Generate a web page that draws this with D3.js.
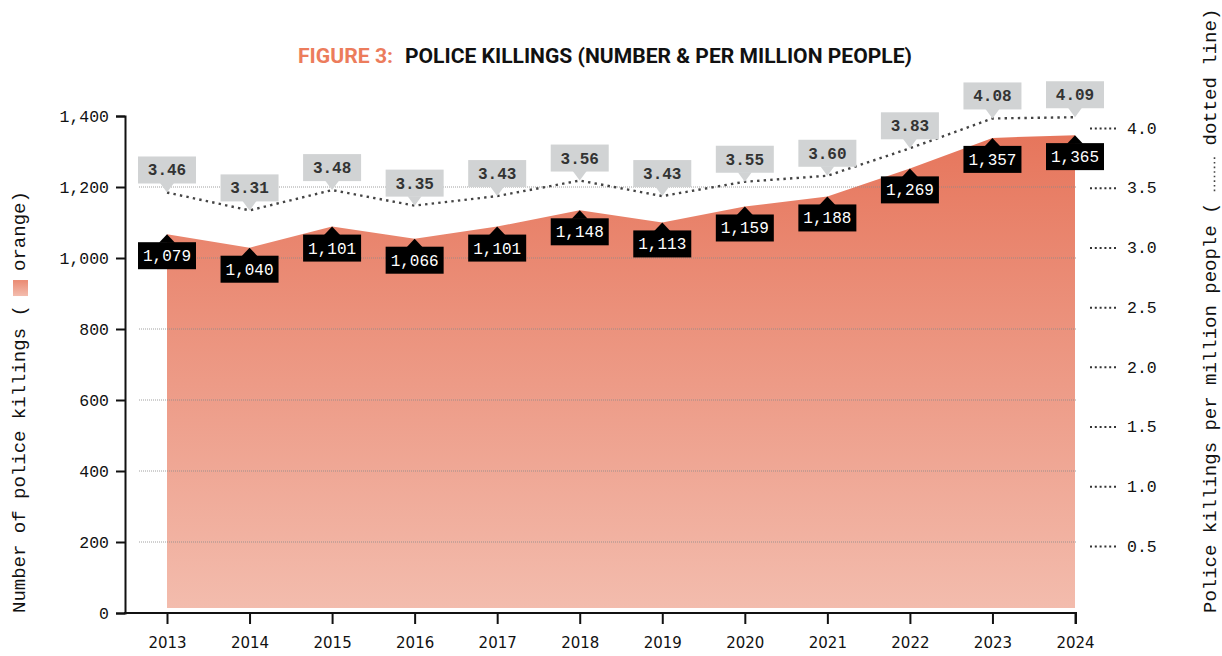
<!DOCTYPE html>
<html>
<head>
<meta charset="utf-8">
<script src="https://cdn.jsdelivr.net/npm/d3@7"></script>
<style>
  html, body { margin: 0; padding: 0; background: #fff; }
  svg { display: block; }
</style>
</head>
<body>
<svg id="chart" width="1222" height="656"></svg>
<script>
const years = [2013, 2014, 2015, 2016, 2017, 2018, 2019, 2020, 2021, 2022, 2023, 2024];
const killings = [1079, 1040, 1101, 1066, 1101, 1148, 1113, 1159, 1188, 1269, 1357, 1365];
const perMillion = [3.46, 3.31, 3.48, 3.35, 3.43, 3.56, 3.43, 3.55, 3.60, 3.83, 4.08, 4.09];
const leftTicks = [0, 200, 400, 600, 800, 1000, 1200, 1400];
const gridTicks = [200, 400, 600, 800, 1000, 1200];
const rightTicks = [0.5, 1.0, 1.5, 2.0, 2.5, 3.0, 3.5, 4.0];

const MONO = "'Liberation Mono', 'Courier New', monospace";
const NB = "\u00A0";
const svg = d3.select("#chart");

const x = d3.scaleLinear().domain([2013, 2024]).range([167, 1075]);
const yLeft = d3.scaleLinear().domain([0, 1400]).range([613, 116]);
const yArea = d3.scaleLinear().domain([0, 1400]).range([608, 123]);
const yRight = d3.scaleLinear().domain([0, 4]).range([605.7, 128]);

const data = years.map((yr, i) => ({ year: yr, k: killings[i], r: perMillion[i] }));

// gradient
const defs = svg.append("defs");
const grad = defs.append("linearGradient").attr("id", "areaGrad")
  .attr("gradientUnits", "userSpaceOnUse").attr("x1", 0).attr("x2", 0).attr("y1", 123).attr("y2", 608);
grad.append("stop").attr("offset", 0).attr("stop-color", "#e6745a");
grad.append("stop").attr("offset", 1).attr("stop-color", "#f3bcad");
const grad2 = defs.append("linearGradient").attr("id", "swGrad")
  .attr("x1", 0).attr("x2", 1).attr("y1", 0).attr("y2", 0);
grad2.append("stop").attr("offset", 0).attr("stop-color", "#f3bcad");
grad2.append("stop").attr("offset", 1).attr("stop-color", "#ea8a72");

// title
svg.append("text").attr("x", 298).attr("y", 63)
  .attr("font-family", "Roboto, 'Liberation Sans', sans-serif").attr("font-weight", 700)
  .attr("font-size", 20).attr("fill", "#ec7c5c")
  .attr("textLength", 95).attr("lengthAdjust", "spacingAndGlyphs")
  .text("FIGURE 3:");
svg.append("text").attr("x", 405).attr("y", 63)
  .attr("font-family", "Roboto, 'Liberation Sans', sans-serif").attr("font-weight", 700)
  .attr("font-size", 20).attr("fill", "#111")
  .attr("textLength", 507).attr("lengthAdjust", "spacingAndGlyphs")
  .text("POLICE KILLINGS (NUMBER & PER MILLION PEOPLE)");

// area
const area = d3.area().x(d => x(d.year)).y0(yArea(0)).y1(d => yArea(d.k));
svg.append("path").datum(data).attr("d", area).attr("fill", "url(#areaGrad)");

// gridlines
svg.append("g").selectAll("line").data(gridTicks).join("line")
  .attr("x1", 139).attr("x2", 1077)
  .attr("y1", d => yLeft(d)).attr("y2", d => yLeft(d))
  .attr("stroke", "#8a8a8a").attr("stroke-width", 1).attr("stroke-dasharray", "1,1").attr("opacity", 0.8);

// left axis
const gL = svg.append("g").attr("transform", "translate(125,0)")
  .call(d3.axisLeft(yLeft).tickValues(leftTicks).tickFormat(d3.format(",")).tickSize(9).tickPadding(7));
gL.select(".domain").attr("stroke", "#111").attr("stroke-width", 2);
gL.selectAll(".tick line").attr("stroke", "#111").attr("stroke-width", 2);
gL.selectAll(".tick text").attr("font-family", MONO).attr("font-size", 16.5).attr("fill", "#111");

// bottom axis
const gB = svg.append("g").attr("transform", "translate(0,613)")
  .call(d3.axisBottom(x).tickValues(years).tickFormat(d3.format("d")).tickSize(11).tickPadding(13).tickSizeOuter(0));
gB.select(".domain").remove();
gB.append("path").attr("d", "M124,0H1076V11").attr("fill", "none").attr("stroke", "#111").attr("stroke-width", 2);
gB.selectAll(".tick line").attr("stroke", "#111").attr("stroke-width", 2);
gB.selectAll(".tick text").attr("font-family", "'DejaVu Sans', sans-serif").attr("font-size", 15).attr("fill", "#111");

// right axis
const gR = svg.append("g").attr("transform", "translate(1090,0)")
  .call(d3.axisRight(yRight).tickValues(rightTicks).tickFormat(d3.format(".1f")).tickSize(28).tickPadding(9));
gR.select(".domain").remove();
gR.selectAll(".tick line").attr("stroke", "#333").attr("stroke-width", 2).attr("stroke-dasharray", "2,2.8");
gR.selectAll(".tick text").attr("font-family", MONO).attr("font-size", 16.5).attr("fill", "#111");

// dotted line
const line = d3.line().x(d => x(d.year)).y(d => yRight(d.r));
svg.append("path").datum(data).attr("d", line).attr("fill", "none")
  .attr("stroke", "#444").attr("stroke-width", 2.4).attr("stroke-dasharray", "2.4,4.2");

// grey labels
const BW = 58, BH = 27;
const gG = svg.append("g").selectAll("g").data(data).join("g")
  .attr("transform", d => `translate(${x(d.year)},${yRight(d.r)})`);
gG.append("rect").attr("x", -BW / 2).attr("y", -9 - BH).attr("width", BW).attr("height", BH).attr("fill", "#d1d3d4");
gG.append("path").attr("d", "M-7,-9.5L0,0L7,-9.5Z").attr("fill", "#d1d3d4");
gG.append("text").attr("x", 0).attr("y", -9 - BH / 2 + 5.5).attr("text-anchor", "middle")
  .attr("font-family", MONO).attr("font-weight", 700).attr("font-size", 16).attr("fill", "#333")
  .text(d => d3.format(".2f")(d.r));

// black labels
const gK = svg.append("g").selectAll("g").data(data).join("g")
  .attr("transform", d => `translate(${x(d.year)},${yArea(d.k)})`);
gK.append("rect").attr("x", -BW / 2).attr("y", 8).attr("width", BW).attr("height", BH).attr("fill", "#000");
gK.append("path").attr("d", "M-8,8.5L0,0L8,8.5Z").attr("fill", "#000");
gK.append("text").attr("x", 0).attr("y", 8 + BH / 2 + 5.5).attr("text-anchor", "middle")
  .attr("font-family", MONO).attr("font-size", 16).attr("fill", "#fff")
  .text(d => d3.format(",")(d.k));

// left axis title
const tL = svg.append("g").attr("transform", "translate(25,613) rotate(-90)");
const leftPre = "Number of police killings (";
const tLt = tL.append("text").attr("x", 0).attr("y", 0)
  .attr("font-family", MONO).attr("font-size", 19).attr("fill", "#111")
  .text(leftPre + NB + NB + NB + "orange)");
const offL = tLt.node().getSubStringLength(0, leftPre.length);
const cwL = tLt.node().getSubStringLength(0, 1);
tL.append("rect").attr("x", offL + (cwL * 3 - 16) / 2).attr("y", -12).attr("width", 16).attr("height", 15).attr("fill", "url(#swGrad)");

// right axis title
const tR = svg.append("g").attr("transform", "translate(1216,613) rotate(-90)");
const rightPre = "Police killings per million people (";
const tRt = tR.append("text").attr("x", 0).attr("y", 0)
  .attr("font-family", MONO).attr("font-size", 19).attr("fill", "#111")
  .text(rightPre + NB + NB + NB + NB + NB + "dotted" + NB + "line)");
const offR = tRt.node().getSubStringLength(0, rightPre.length);
const cw = tRt.node().getSubStringLength(0, 1);
tR.append("line").attr("x1", offR + cw * 1).attr("x2", offR + cw * 4).attr("y1", -1.5).attr("y2", -1.5)
  .attr("stroke", "#444").attr("stroke-width", 1.6).attr("stroke-dasharray", "1.6,3");
</script>
</body>
</html>
